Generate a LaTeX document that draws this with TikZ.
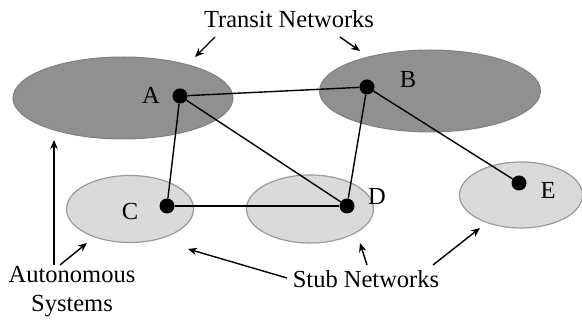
\documentclass[tikz,border=0pt]{standalone}
\usepackage{fontspec}
\setmainfont{Liberation Serif}
\usetikzlibrary{shapes.geometric,arrows.meta}
\definecolor{darknet}{HTML}{909090}
\definecolor{darkedge}{HTML}{808080}
\definecolor{lightnet}{HTML}{DADADA}
\definecolor{lightedge}{HTML}{9A9A9A}
\begin{document}
\begin{tikzpicture}[x=1pt,y=-1pt,
  transit/.style={ellipse,draw=darkedge,fill=darknet,line width=1pt,inner sep=0pt},
  stub/.style={ellipse,draw=lightedge,fill=lightnet,line width=1.2pt,inner sep=0pt},
  router/.style={circle,fill=black,minimum size=15pt,inner sep=0pt},
  link/.style={line width=1.4pt},
  lbl/.style={font=\fontsize{24.5}{29}\selectfont,inner sep=0pt},
  pointer/.style={line width=1.4pt,-{Stealth[length=9pt,width=7.5pt]}}]
\useasboundingbox (0,0) rectangle (582,320);
% networks
\node[transit,minimum width=220pt,minimum height=82pt] (tA) at (123,98) {};
\node[transit,minimum width=221pt,minimum height=82pt] (tB) at (430,91) {};
\node[stub,minimum width=127pt,minimum height=67pt] (sC) at (130,209) {};
\node[stub,minimum width=127pt,minimum height=68pt] (sD) at (310,209) {};
\node[stub,minimum width=123pt,minimum height=66pt] (sE) at (521,195) {};
% routers
\node[router] (A) at (180,96) {};
\node[router] (B) at (367,87) {};
\node[router] (C) at (167,206) {};
\node[router] (D) at (347,206) {};
\node[router] (E) at (519,183) {};
% links
\draw[link] (A) -- (B);
\draw[link] (A) -- (C);
\draw[link] (A) -- (D);
\draw[link] (B) -- (D);
\draw[link] (B) -- (E);
\draw[link] (C) -- (D);
% router labels
\node[lbl] (lA) at (151,95) {A};
\node[lbl] (lB) at (408,80) {B};
\node[lbl] (lC) at (130,212) {C};
\node[lbl] (lD) at (377,197) {D};
\node[lbl] (lE) at (548,190) {E};
% captions
\node[lbl] (transit) at (289,19) {Transit Networks};
\node[lbl,align=center] (auto) at (72,292) {Autonomous\\Systems};
\node[lbl] (stubtxt) at (366,279) {Stub Networks};
% arrow ends
\coordinate (t1s) at (215,37); \coordinate (t1e) at (195,57);
\coordinate (t2s) at (340,37); \coordinate (t2e) at (360,51);
\coordinate (a1s) at (54,265); \coordinate (a1e) at (54,140);
\coordinate (a2s) at (60,265); \coordinate (a2e) at (87,243);
\coordinate (s1s) at (287,278); \coordinate (s1e) at (188,249);
\coordinate (s2s) at (367,265); \coordinate (s2e) at (360,243);
\coordinate (s3s) at (433,265); \coordinate (s3e) at (480,228);
\draw[pointer] (t1s) -- (t1e);
\draw[pointer] (t2s) -- (t2e);
\draw[pointer] (a1s) -- (a1e);
\draw[pointer] (a2s) -- (a2e);
\draw[pointer] (s1s) -- (s1e);
\draw[pointer] (s2s) -- (s2e);
\draw[pointer] (s3s) -- (s3e);
\end{tikzpicture}
\end{document}
